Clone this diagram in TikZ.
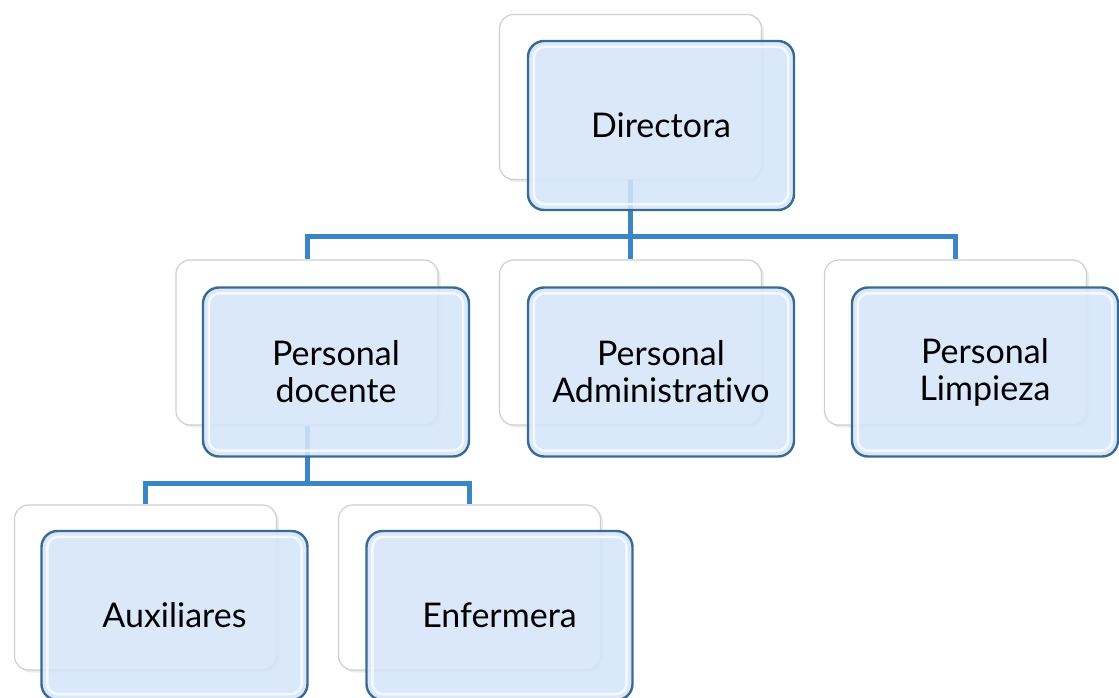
\documentclass[tikz,border=0pt]{standalone}
\usepackage{fontspec}
\setmainfont{Lato}[Ligatures=NoCommon]
\usetikzlibrary{shadows}
\definecolor{connblue}{HTML}{3A85C3}
\definecolor{frontfill}{HTML}{D5E5FA}
\definecolor{frontline}{HTML}{3A6A92}
\definecolor{backline}{HTML}{CFCFCF}
\tikzset{
  backbox/.style={draw=backline, fill=white, rounded corners=14pt, line width=1.2pt,
    minimum width=262pt, minimum height=165pt, inner sep=0pt,
    drop shadow={opacity=0.15, shadow xshift=2.5pt, shadow yshift=-2.5pt}},
  frontbox/.style={draw=frontline, fill=frontfill, fill opacity=0.88, text opacity=1,
    rounded corners=16pt, line width=2.4pt, minimum width=266pt, minimum height=169pt,
    inner sep=0pt, align=center, font=\fontsize{34}{37}\selectfont},
  bevel/.style={draw=white, draw opacity=0.75, line width=2.5pt, rounded corners=11pt},
  conn/.style={draw=connblue, line width=5pt, line join=miter},
}
\begin{document}
\begin{tikzpicture}[x=1pt,y=1pt]
\useasboundingbox (0,0) rectangle (1119,-698);
% back boxes
\node[backbox] (Dback) at (630.5,-97) {};
\node[backbox] (Pdback) at (307,-342.5) {};
\node[backbox] (Paback) at (630.5,-342.5) {};
\node[backbox] (Plback) at (955.5,-342.5) {};
\node[backbox] (Auback) at (145.5,-587.5) {};
\node[backbox] (Enback) at (469.5,-587.5) {};
% connectors
\coordinate (j1) at (630.5,-236);
\coordinate (j2) at (307,-483);
\draw[conn] (Dback.south) -- (j1);
\draw[conn] (j1) -| (Pdback.north);
\draw[conn] (j1) -| (Plback.north);
\draw[conn] (j1) -- (Paback.north);
\draw[conn] (Pdback.south) -- (j2);
\draw[conn] (j2) -| (Auback.north);
\draw[conn] (j2) -| (Enback.north);
% front boxes
\node[frontbox] (D) at (661,-125.5) {Directora};
\node[frontbox] (Pd) at (336,-372) {Personal\\docente};
\node[frontbox] (Pa) at (661,-372) {Personal\\Administrativo};
\node[frontbox] (Pl) at (985,-372) {Personal\\Limpieza};
\node[frontbox] (Au) at (174.5,-615.5) {Auxiliares};
\node[frontbox] (En) at (499.5,-615.5) {Enfermera};
\foreach \n in {D,Pd,Pa,Pl,Au,En}{
  \draw[bevel] ([shift={(7,-7)}]\n.north west) rectangle ([shift={(-7,7)}]\n.south east);
}
\end{tikzpicture}
\end{document}
